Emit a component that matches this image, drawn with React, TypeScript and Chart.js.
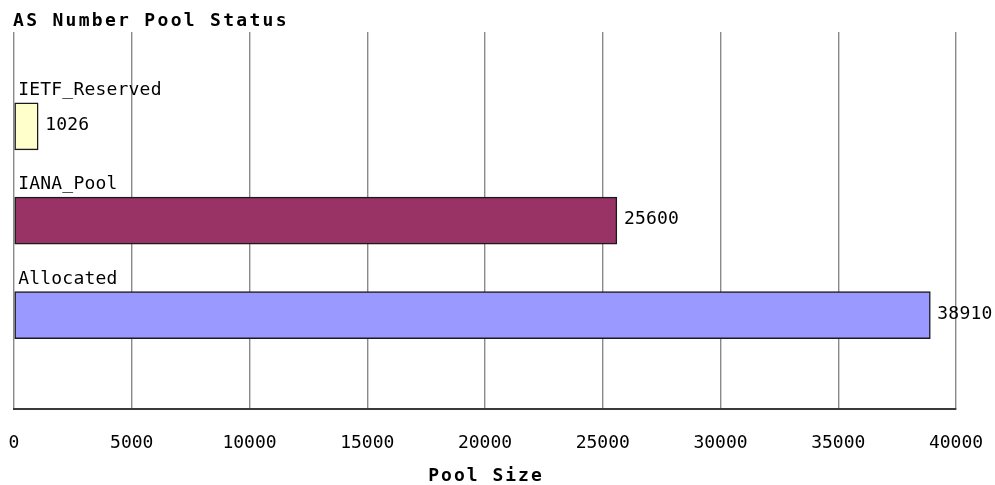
import React, { useEffect, useRef } from 'react';
import { Chart, registerables } from 'chart.js';

Chart.register(...registerables);

const chartTitle = 'AS Number Pool Status';
const axisTitle = 'Pool Size';
const categories = ['IETF_Reserved', 'IANA_Pool', 'Allocated'];
const poolSizes = [1026, 25600, 38910];
const barColors = ['#FFFFCC', '#993366', '#9999FF'];
const xMin = 0;
const xMax = 40000;
const xStep = 5000;

const FONT = '"DejaVu Sans Mono", monospace';

const textPlugin = {
  id: 'textPlugin',
  afterDraw(chart: any) {
    const ctx = chart.ctx as CanvasRenderingContext2D;
    const area = chart.chartArea;
    ctx.save();
    ctx.fillStyle = '#000';
    ctx.textBaseline = 'alphabetic';
    // chart title
    ctx.font = `bold 18px ${FONT}`;
    (ctx as any).letterSpacing = '2.3px';
    ctx.textAlign = 'left';
    ctx.fillText(chartTitle, 13, area.top - 6);
    // axis title
    (ctx as any).letterSpacing = '2px';
    ctx.textAlign = 'center';
    ctx.fillText(axisTitle, (area.left + area.right) / 2 + 1, chart.height - 4);
    // bar labels
    (ctx as any).letterSpacing = '0.2px';
    ctx.font = `18px ${FONT}`;
    ctx.textAlign = 'left';
    const meta = chart.getDatasetMeta(0);
    const labels = chart.data.labels as string[];
    const values = chart.data.datasets[0].data as (number | null)[];
    meta.data.forEach((el: any, i: number) => {
      const v = values[i];
      if (v === null || v === undefined) return;
      const p = el.getProps(['x', 'y', 'base', 'height'], true);
      ctx.fillText(labels[i], p.base + 3.5, p.y - p.height / 2 - 8);
      ctx.fillText(String(v), p.x + 7, p.y + 3.5);
    });
    ctx.restore();
  },
};

export default function App() {
  const canvasRef = useRef<HTMLCanvasElement | null>(null);

  useEffect(() => {
    if (!canvasRef.current) return;
    const labels = ['', ...categories, ''];
    const data = [null, ...poolSizes, null];
    const colors = ['#fff', ...barColors, '#fff'];
    const chart = new Chart(canvasRef.current, {
      type: 'bar',
      data: {
        labels,
        datasets: [
          {
            data,
            backgroundColor: colors,
            borderColor: '#1a1a1a',
            borderWidth: 1.5,
            borderSkipped: false,
            barThickness: 47,
          },
        ],
      },
      options: {
        indexAxis: 'y',
        responsive: false,
        animation: false,
        devicePixelRatio: 1,
        layout: { padding: { left: 14, right: 39, top: 32, bottom: 31 } },
        plugins: {
          legend: { display: false },
          tooltip: { enabled: false },
          title: { display: false },
        },
        scales: {
          x: {
            type: 'linear',
            min: xMin,
            max: xMax,
            ticks: {
              stepSize: xStep,
              padding: 0,
              color: '#000',
              font: { family: FONT, size: 18 },
              maxRotation: 0,
              autoSkip: false,
              callback: (v: any) => String(v),
            },
            grid: {
              color: '#8a8a8a',
              lineWidth: 1.4,
              drawTicks: true,
              tickLength: 23,
              tickColor: 'rgba(0,0,0,0)',
            },
            border: { display: true, color: '#3a3a3a', width: 2 },
          },
          y: {
            type: 'category',
            offset: false,
            display: false,
            grid: { display: false },
          },
        },
      },
      plugins: [textPlugin],
    });
    return () => chart.destroy();
  }, []);

  return (
    <div style={{ position: 'fixed', left: 0, top: 0, width: 995, height: 485, background: '#fff' }}>
      <canvas ref={canvasRef} width={995} height={485} style={{ display: 'block' }} />
    </div>
  );
}
